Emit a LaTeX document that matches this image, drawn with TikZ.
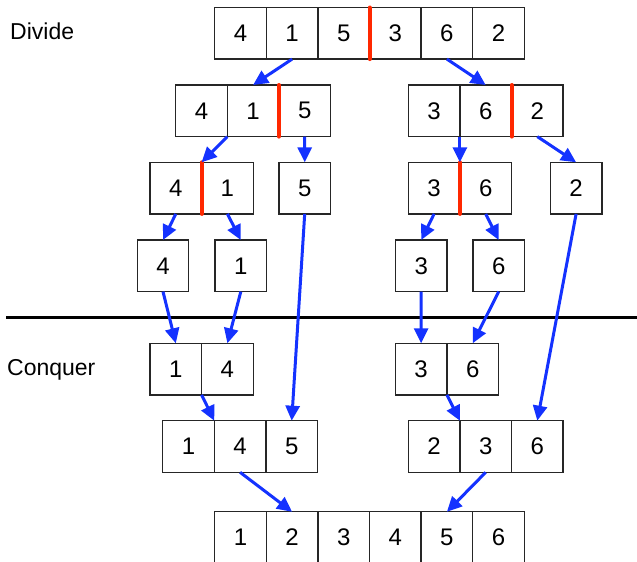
\documentclass[tikz,border=0pt]{standalone}
\usepackage{fontspec}
\setmainfont{Liberation Sans}
\usetikzlibrary{arrows.meta,calc}
\definecolor{arrowblue}{RGB}{20,50,255}
\definecolor{splitred}{RGB}{255,40,0}
\begin{document}
\begin{tikzpicture}[x=1pt,y=-1pt,
 cell/.style={draw=black!85,line width=1.3pt,minimum width=51.6pt,minimum height=51.6pt,inner sep=0pt,outer sep=0pt,font=\fontsize{24}{28}\selectfont},
 arr/.style={draw=arrowblue,line width=3pt,-{Triangle[length=15pt,width=14pt]}},
 split/.style={draw=splitred,line width=4pt,line cap=round},
 divider/.style={draw=black,line width=2.5pt},
 lbl/.style={anchor=base west,font=\fontsize{23}{28}\selectfont,inner sep=0pt}]
\useasboundingbox (0,0) rectangle (637,562);
\clip (0,0) rectangle (637,562);
% row 1
\foreach \v [count=\i] in {4,1,5,3,6,2} {\node[cell] (r1\i) at ({240.5+51.6*(\i-1)},33.3) {\v};}
% row 2
\foreach \v [count=\i] in {4,1,5} {\node[cell] (r2\i) at ({201.5+51.6*(\i-1)},110.8) {\v};}
\foreach \v [count=\i from 4] in {3,6,2} {\node[cell] (r2\i) at ({434.1+51.6*(\i-4)},110.8) {\v};}
% row 3
\node[cell] (r31) at (175.8,188.1) {4};
\node[cell] (r32) at (227.4,188.1) {1};
\node[cell] (r33) at (304.7,188.1) {5};
\node[cell] (r34) at (434.1,188.1) {3};
\node[cell] (r35) at (485.7,188.1) {6};
\node[cell] (r36) at (576.1,188.1) {2};
% row 4
\node[cell] (r41) at (163.0,265.8) {4};
\node[cell] (r42) at (240.8,265.8) {1};
\node[cell] (r43) at (421.2,265.8) {3};
\node[cell] (r44) at (498.7,265.8) {6};
% row 5
\node[cell] (r51) at (175.8,369.1) {1};
\node[cell] (r52) at (227.4,369.1) {4};
\node[cell] (r53) at (421.1,369.1) {3};
\node[cell] (r54) at (472.7,369.1) {6};
% row 6
\foreach \v [count=\i] in {1,4,5} {\node[cell] (r6\i) at ({188.5+51.6*(\i-1)},446.5) {\v};}
\foreach \v [count=\i from 4] in {2,3,6} {\node[cell] (r6\i) at ({434.1+51.6*(\i-4)},446.5) {\v};}
% row 7
\foreach \v [count=\i] in {1,2,3,4,5,6} {\node[cell] (r7\i) at ({240.5+51.6*(\i-1)},537.6) {\v};}
% split lines
\draw[split] (r13.north east) -- (r13.south east);
\draw[split] (r22.north east) -- (r22.south east);
\draw[split] (r25.north east) -- (r25.south east);
\draw[split] (r31.north east) -- (r31.south east);
\draw[split] (r34.north east) -- (r34.south east);
% divider
\coordinate (dl) at (6,317.5);
\coordinate (dr) at (640,317.5);
\draw[divider] (dl) -- (dr);
% labels
\node[lbl] (divide) at (10,39.5) {Divide};
\node[lbl] (conquer) at (7,375) {Conquer};
% arrows
\draw[arr] (r12.south) -- (r22.north);
\draw[arr] (r15.south) -- (r25.north);
\draw[arr] (r21.south east) -- (r31.north east);
\draw[arr] (r23.south) -- (r33.north);
\draw[arr] (r24.south east) -- (r34.north east);
\draw[arr] (r26.south) -- (r36.north);
\draw[arr] (r31.south) -- (r41.north);
\draw[arr] (r32.south) -- (r42.north);
\draw[arr] (r34.south) -- (r43.north);
\draw[arr] (r35.south) -- (r44.north);
\draw[arr] (r41.south) -- (r51.north);
\draw[arr] (r42.south) -- (r52.north);
\draw[arr] (r43.south) -- (r53.north);
\draw[arr] (r44.south) -- (r54.north);
\draw[arr] (r33.south) -- (r63.north);
\draw[arr] (r36.south) -- (r66.north);
\draw[arr] (r51.south east) -- (r61.north east);
\draw[arr] (r53.south east) -- (r64.north east);
\draw[arr] (r62.south) -- (r72.north);
\draw[arr] (r65.south) -- (r75.north);
\end{tikzpicture}
\end{document}
